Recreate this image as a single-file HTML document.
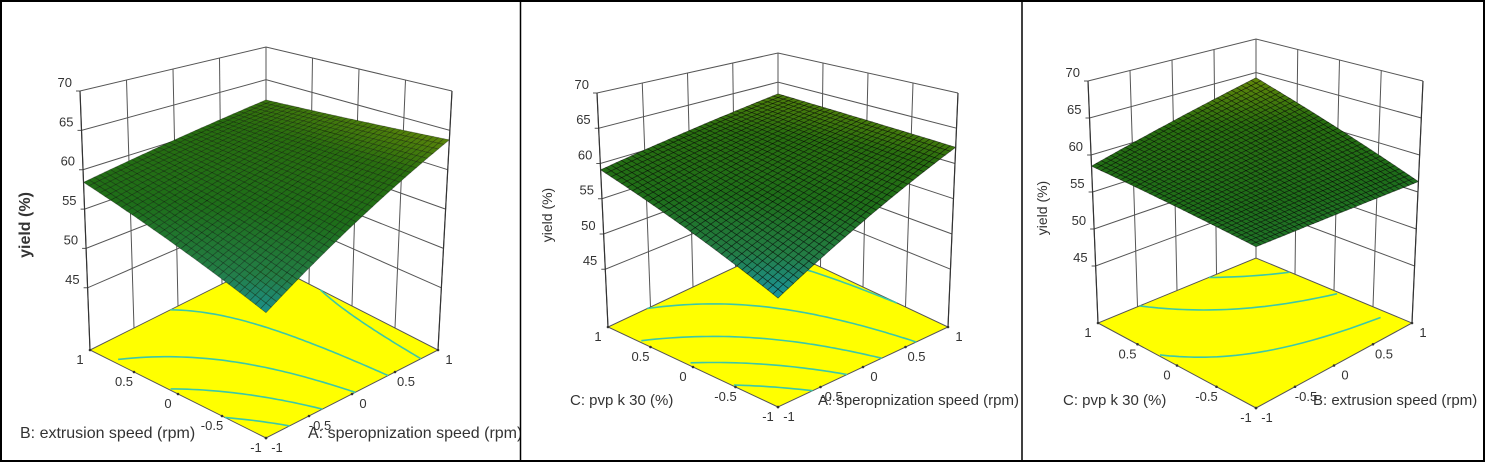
<!DOCTYPE html>
<html><head><meta charset="utf-8"><style>
html,body{margin:0;padding:0;background:#fff}
svg{display:block}
text{font-family:"Liberation Sans",sans-serif;fill:#333}
</style></head><body>
<svg id="chart" width="1485" height="462" viewBox="0 0 1485 462">
<rect x="0" y="0" width="1485" height="462" fill="#fff"/>
<defs>
<clipPath id="c0"><rect x="0" y="0" width="520" height="462"/></clipPath>
<clipPath id="c1"><rect x="521" y="0" width="500" height="462"/></clipPath>
<clipPath id="c2"><rect x="1023" y="0" width="462" height="462"/></clipPath>
</defs>
<g id="p0" clip-path="url(#c0)"></g>
<g id="p1" clip-path="url(#c1)"></g>
<g id="p2" clip-path="url(#c2)"></g>
<rect x="1" y="1" width="1483" height="460" fill="none" stroke="#000" stroke-width="2"/>
<line x1="520.5" y1="0" x2="520.5" y2="462" stroke="#000" stroke-width="1.5"/>
<line x1="1022" y1="0" x2="1022" y2="462" stroke="#000" stroke-width="1.5"/>
</svg>
<script>
// corner yields [front, left, right, back]
const panel1Yield = [50.7, 58.4, 63.8, 61.9];
const panel2Yield = [50.0, 59.1, 62.3, 63.0];
const panel3Yield = [55.8, 58.5, 56.4, 64.2];
const zTicks = [45, 50, 55, 60, 65, 70];
const floorTicks = [1, 0.5, 0, -0.5, -1];
const floorTickLabels = ['1', '0.5', '0', '-0.5', '-1'];

const NS = 'http://www.w3.org/2000/svg';
function mk(tag, attrs, parent) {
  const e = document.createElementNS(NS, tag);
  for (const k in attrs) e.setAttribute(k, attrs[k]);
  parent.appendChild(e);
  return e;
}
const panels = [
  {g:'p0', vals:panel1Yield, zmin:37.1,
   fl:{F:[266,438],L:[90,350],R:[438,350],B:[266,262]},
   tp:{F:[266,135],L:[80,91],R:[452,91],B:[266,47]},
   yl:{x:30,y:225,s:16,w:'bold'}, la:{t:'B: extrusion speed (rpm)',x:20,y:438,s:16}, ra:{t:'A: speropnization speed (rpm)',x:308,y:438,s:16}},
  {g:'p1', vals:panel2Yield, zmin:36.8,
   fl:{F:[778,407],L:[608,327],R:[948,327],B:[778,247]},
   tp:{F:[778,133],L:[597,93],R:[958,93],B:[778,53]},
   yl:{x:552,y:215,s:14,w:'normal'}, la:{t:'C: pvp k 30 (%)',x:570,y:405,s:15}, ra:{t:'A: speropnization speed (rpm)',x:818,y:405,s:15}},
  {g:'p2', vals:panel3Yield, zmin:37.3,
   fl:{F:[1256,408],L:[1098,323],R:[1412,323],B:[1256,258]},
   tp:{F:[1256,123],L:[1088,81],R:[1423,81],B:[1256,39]},
   yl:{x:1047,y:208,s:14,w:'normal'}, la:{t:'C: pvp k 30 (%)',x:1063,y:405,s:15}, ra:{t:'B: extrusion speed (rpm)',x:1313,y:405,s:15}}
];
const ZMAX = 70;
function bil(Q, s, r) {
  const u = (s + 1) / 2, v = (r + 1) / 2;
  return [0,1].map(i => Q.F[i]*(1-u)*(1-v) + Q.L[i]*u*(1-v) + Q.R[i]*(1-u)*v + Q.B[i]*u*v);
}
function proj(P, s, r, z) {
  const a = bil(P.fl, s, r), b = bil(P.tp, s, r);
  const t = (z - P.zmin) / (ZMAX - P.zmin);
  return [a[0] + (b[0]-a[0])*t, a[1] + (b[1]-a[1])*t];
}
function f(vals, s, r) {
  const u = (s + 1) / 2, v = (r + 1) / 2;
  return vals[0]*(1-u)*(1-v) + vals[1]*u*(1-v) + vals[2]*(1-u)*v + vals[3]*u*v;
}
function cmap(z) {
  const stops = [[46,[20,155,215]],[50,[25,150,160]],[53,[35,125,70]],[57,[30,110,25]],[61,[40,110,15]],[64,[95,135,10]],[67,[150,160,10]]];
  if (z <= stops[0][0]) return 'rgb(' + stops[0][1] + ')';
  for (let i = 1; i < stops.length; i++) {
    if (z <= stops[i][0]) {
      const t = (z - stops[i-1][0]) / (stops[i][0] - stops[i-1][0]);
      const c = stops[i-1][1].map((x, k) => Math.round(x + (stops[i][1][k] - x) * t));
      return 'rgb(' + c + ')';
    }
  }
  return 'rgb(' + stops[stops.length-1][1] + ')';
}
const pt = p => p[0].toFixed(1) + ',' + p[1].toFixed(1);

panels.forEach((P, pi) => {
  const g = document.getElementById(P.g);
  const wall = mk('g', {stroke:'#555', 'stroke-width':1, fill:'none'}, g);
  
  
  [-1, -0.5, 0, 0.5, 1].forEach(r => {
    const a = proj(P, 1, r, P.zmin), b = proj(P, 1, r, ZMAX);
    mk('line', {x1:a[0], y1:a[1], x2:b[0], y2:b[1]}, wall);
  });
  [-1, -0.5, 0, 0.5].forEach(s => {
    const a = proj(P, s, 1, P.zmin), b = proj(P, s, 1, ZMAX);
    mk('line', {x1:a[0], y1:a[1], x2:b[0], y2:b[1]}, wall);
  });
  zTicks.forEach(z => {
    const a = proj(P, 1, -1, z), b = proj(P, 1, 1, z), c = proj(P, -1, 1, z);
    mk('polyline', {points: pt([a[0]-4, a[1]]) + ' ' + pt(a) + ' ' + pt(b) + ' ' + pt(c)}, wall);
    const tl = mk('text', {x:a[0]-8, y:a[1]-4, 'text-anchor':'end', 'font-size':13}, g);
    tl.textContent = z;
    
    
  });
  const fl = mk('polygon', {points:[pt(P.fl.F), pt(P.fl.L), pt(P.fl.B), pt(P.fl.R)].join(' '), fill:'#ffff00', stroke:'#555', 'stroke-width':1}, g);
  
  
  const vmin = Math.min(...P.vals), vmax = Math.max(...P.vals);
  for (let L = Math.ceil(vmin/2.5)*2.5; L < vmax; L += 2.5) {
    if (L - vmin < 0.4 || vmax - L < 0.4) continue;
    const pts = [];
    for (let i = 0; i <= 60; i++) {
      const s = -1 + 2*i/60;
      const A = f(P.vals, s, -1), B = f(P.vals, s, 1);
      if (Math.abs(B - A) < 1e-9) continue;
      const v = (L - A) / (B - A);
      if (v < 0 || v > 1) continue;
      pts.push(pt(proj(P, s, -1 + 2*v, P.zmin)));
    }
    if (pts.length > 1) {
      const c = mk('polyline', {points:pts.join(' '), fill:'none', stroke:'#3cc8a8', 'stroke-width':1.6}, g);
      
      
    }
  }
  floorTicks.forEach((s, i) => {
    const a = proj(P, s, -1, P.zmin);
    mk('circle', {cx:a[0], cy:a[1], r:1.3, fill:'#333'}, g);
    const t = mk('text', {x:a[0]-10, y:a[1]+14, 'text-anchor':'middle', 'font-size':13}, g);
    t.textContent = floorTickLabels[i];
    
    
    const b = proj(P, -1, s, P.zmin);
    mk('circle', {cx:b[0], cy:b[1], r:1.3, fill:'#333'}, g);
    const t2 = mk('text', {x:b[0]+11, y:b[1]+14, 'text-anchor':'middle', 'font-size':13}, g);
    t2.textContent = floorTickLabels[i];
    
    
  });
  const N = 34;
  const surf = mk('g', {}, g);
  
  
  const dark = pi === 0 ? 0.35 : 0.55;
  for (let d = 2*N - 2; d >= 0; d--) {
    for (let i = 0; i < N; i++) {
      const j = d - i; if (j < 0 || j >= N) continue;
      const s0 = -1 + 2*i/N, s1 = -1 + 2*(i+1)/N, r0 = -1 + 2*j/N, r1 = -1 + 2*(j+1)/N;
      const zc = f(P.vals, (s0+s1)/2, (r0+r1)/2);
      const q = [proj(P,s0,r0,f(P.vals,s0,r0)), proj(P,s1,r0,f(P.vals,s1,r0)), proj(P,s1,r1,f(P.vals,s1,r1)), proj(P,s0,r1,f(P.vals,s0,r1))];
      mk('polygon', {points:q.map(pt).join(' '), fill:cmap(zc), stroke:'rgba(0,0,0,' + dark + ')', 'stroke-width':0.7}, surf);
    }
  }
  [[1,-1],[-1,1]].forEach(([s, r]) => {
    const a = proj(P, s, r, P.zmin), b = proj(P, s, r, ZMAX);
    mk('line', {x1:a[0], y1:a[1], x2:b[0], y2:b[1], stroke:'#333', 'stroke-width':1.2}, g);
  });
  const y = mk('text', {x:P.yl.x, y:P.yl.y, 'font-size':P.yl.s, 'font-weight':P.yl.w, 'text-anchor':'middle', transform:'rotate(-90 ' + P.yl.x + ' ' + P.yl.y + ')'}, g);
  y.textContent = 'yield (%)';
  
  
  const la = mk('text', {x:P.la.x, y:P.la.y, 'font-size':P.la.s}, g);
  la.textContent = P.la.t;
  
  
  const ra = mk('text', {x:P.ra.x, y:P.ra.y, 'font-size':P.ra.s}, g);
  ra.textContent = P.ra.t;
  
  
});
</script>
</body></html>
